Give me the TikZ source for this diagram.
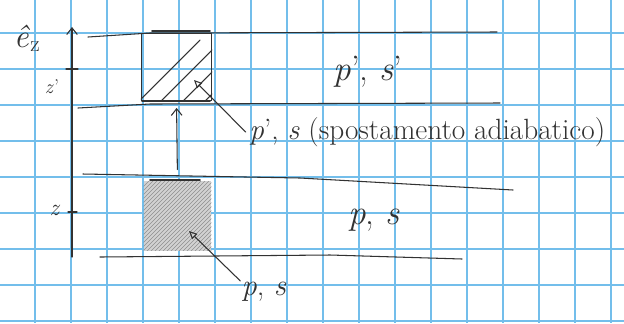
\documentclass[tikz,border=0pt]{standalone}
\usepackage{amsmath,amssymb}
\usepackage{xcolor}
\usepackage{tikz}
\usetikzlibrary{arrows.meta,positioning}
\definecolor{gridblue}{RGB}{115,190,235}
\definecolor{pencil}{RGB}{50,50,50}
\newcommand{\var}[1]{\textit{#1}}

\begin{document}
\begin{tikzpicture}[x=0.03cm, y=-0.03cm, every node/.style={text=pencil, inner sep=1pt},
  grid/.style={draw=gridblue, line width=0.9pt},
  pen/.style={draw=pencil, line width=0.9pt, line cap=round},
  heavy/.style={draw=pencil, line width=1.6pt, line cap=round},
  box/.style={pen, minimum width=2.1cm, minimum height=2.0cm, inner sep=0pt},
  arr/.style={pen, -{Straight Barb[length=2mm, width=3.2mm]}},
  lead/.style={pen, -{Triangle[open, length=2.4mm, width=2.2mm]}}]
\useasboundingbox (0,0) rectangle (624,323);
\fill[white] (0,0) rectangle (624,323);
% squared paper
\foreach \gx in {35,71,...,611} \draw[grid] (\gx,0) -- (\gx,323);
\foreach \gy in {33,69,...,321} \draw[grid] (0,\gy) -- (624,\gy);

% axis
\coordinate (axbot) at (72,257);
\coordinate (axtop) at (72,27);
\draw[arr] (axbot) -- (axtop);
\draw[pen] (66,69) -- (78,69);
\draw[pen] (68,212) -- (77,212);
\node[font=\fontsize{28}{28}\selectfont] (ez) at (27,38) {\var{\^e}\textsubscript{z}};
\node[font=\fontsize{17}{17}\selectfont] (zp) at (52,87) {\var{z}’};
\node[font=\fontsize{20}{20}\selectfont] (zl) at (55,210) {\var{z}};

% layers
\draw[pen] (88,37) -- (150,33) -- (497,32);
\draw[pen] (78,108) -- (150,104) -- (500,103);
\draw[pen] (83,174) -- (300,178) -- (513,190);
\draw[pen] (100,257) -- (330,255) -- (462,259);
\node[font=\fontsize{30}{30}\selectfont] (top) at (368,72) {\var{p}’, \var{s}’};
\node[font=\fontsize{30}{30}\selectfont] (bot) at (374,220) {\var{p}, \var{s}};

% parcels
\node[box] (upbox) at (176.5,67) {};
\node[box, minimum width=2.0cm, minimum height=2.05cm] (lowbox) at (177.5,216) {};
\draw[heavy] (152,31) -- (210,31);
\draw[heavy] (142,101) -- (210,101);
\draw[heavy] (150,180) -- (200,180);
\draw[heavy] (145,250) -- (210,250);
\begin{scope}
  \clip (upbox.south west) rectangle (upbox.north east);
  \foreach \k in {0,22,...,110} \draw[pen] (130+\k,110) -- (200+\k,40);
\end{scope}
\begin{scope}
  \clip (lowbox.south west) rectangle (lowbox.north east);
  \fill[pencil!22] (lowbox.south west) rectangle (lowbox.north east);
  \foreach \k in {0,4,...,150} \draw[pencil!55, line width=0.4pt] (70+\k,260) -- (150+\k,180);
\end{scope}
\draw[arr, shorten <=10pt, shorten >=6pt] (lowbox.north) -- (upbox.south);

% labels with leaders
\node[font=\fontsize{25}{25}\selectfont, anchor=west] (adiab) at (248,132) {\var{p}’, \var{s} (spostamento adiabatico)};
\coordinate (tipup) at (194,80);
\draw[lead] ([xshift=-2pt]adiab.west) -- (tipup);
\node[font=\fontsize{26}{26}\selectfont] (low) at (264,292) {\var{p}, \var{s}};
\coordinate (tiplow) at (189,231);
\draw[lead] (low.north west) -- (tiplow);
\end{tikzpicture}
\end{document}
